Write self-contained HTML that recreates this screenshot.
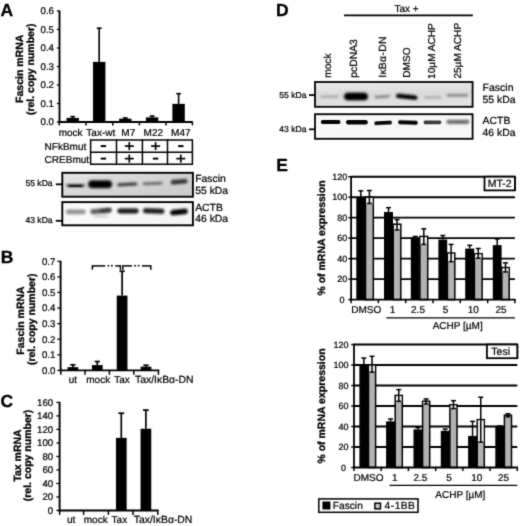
<!DOCTYPE html>
<html><head><meta charset="utf-8"><title>Figure</title>
<style>
html,body{margin:0;padding:0;background:#fff;}
body{width:520px;height:526px;overflow:hidden;font-family:"Liberation Sans",sans-serif;}
svg{display:block;}
svg text{font-family:"Liberation Sans",sans-serif;text-rendering:geometricPrecision;}
</style></head>
<body>
<svg width="520" height="526" viewBox="0 0 520 526">
<defs>
<filter id="soft" filterUnits="userSpaceOnUse" x="0" y="0" width="520" height="526" color-interpolation-filters="sRGB"><feConvolveMatrix order="3" kernelMatrix="0.01917 0.10012 0.01917 0.10012 0.52283 0.10012 0.01917 0.10012 0.01917" edgeMode="duplicate" preserveAlpha="true"/></filter>
<filter id="b0_6" x="-30%" y="-200%" width="160%" height="500%"><feGaussianBlur stdDeviation="0.6"/></filter>
<filter id="b0_7" x="-30%" y="-200%" width="160%" height="500%"><feGaussianBlur stdDeviation="0.7"/></filter>
<filter id="b0_8" x="-30%" y="-200%" width="160%" height="500%"><feGaussianBlur stdDeviation="0.8"/></filter>
<filter id="b0_9" x="-30%" y="-200%" width="160%" height="500%"><feGaussianBlur stdDeviation="0.9"/></filter>
<filter id="b1_0" x="-30%" y="-200%" width="160%" height="500%"><feGaussianBlur stdDeviation="1.0"/></filter>
<filter id="b1_5" x="-30%" y="-200%" width="160%" height="500%"><feGaussianBlur stdDeviation="1.5"/></filter>
<linearGradient id="gA1" x1="0" x2="1" y1="0" y2="0.6"><stop offset="0" stop-color="#e6e6e6"/><stop offset="0.4" stop-color="#d9d9d9"/><stop offset="1" stop-color="#cdcdcd"/></linearGradient>
<linearGradient id="gA2" x1="0" x2="1" y1="0" y2="0"><stop offset="0" stop-color="#fafafa"/><stop offset="1" stop-color="#f4f4f4"/></linearGradient>
<linearGradient id="gD1" x1="0" x2="0.15" y1="0" y2="1"><stop offset="0" stop-color="#ececec"/><stop offset="0.55" stop-color="#dadada"/><stop offset="1" stop-color="#e2e2e2"/></linearGradient>
<linearGradient id="gD2" x1="0" x2="1" y1="0" y2="0"><stop offset="0" stop-color="#f8f8f8"/><stop offset="1" stop-color="#f6f6f6"/></linearGradient>
<clipPath id="cgA1"><rect x="62.3" y="172.8" width="130.6" height="23.9"/></clipPath>
<clipPath id="cgA2"><rect x="62.3" y="202.1" width="130.6" height="23.2"/></clipPath>
<clipPath id="cgD1"><rect x="315" y="82" width="157.6" height="24.8"/></clipPath>
<clipPath id="cgD2"><rect x="315" y="114.2" width="157.6" height="24.6"/></clipPath>
</defs>
<rect width="520" height="526" fill="#fff"/>
<g filter="url(#soft)">
<rect x="-2" y="-2" width="524" height="530" fill="#fff"/>
<text x="0.60" y="16.20" font-size="17.5" text-anchor="start" font-weight="bold" fill="#000" stroke="#000" stroke-width="0.3" >A</text>
<line x1="59.50" y1="10.50" x2="59.50" y2="122.90" stroke="#000" stroke-width="1.9"/>
<line x1="58.60" y1="122.00" x2="192.80" y2="122.00" stroke="#000" stroke-width="1.8"/>
<line x1="56.90" y1="122.00" x2="59.50" y2="122.00" stroke="#000" stroke-width="1.3"/>
<text x="54.00" y="125.30" font-size="9.7" text-anchor="end" fill="#000" stroke="#000" stroke-width="0.22" >0.0</text>
<line x1="56.90" y1="103.50" x2="59.50" y2="103.50" stroke="#000" stroke-width="1.3"/>
<text x="54.00" y="106.80" font-size="9.7" text-anchor="end" fill="#000" stroke="#000" stroke-width="0.22" >0.1</text>
<line x1="56.90" y1="85.00" x2="59.50" y2="85.00" stroke="#000" stroke-width="1.3"/>
<text x="54.00" y="88.30" font-size="9.7" text-anchor="end" fill="#000" stroke="#000" stroke-width="0.22" >0.2</text>
<line x1="56.90" y1="66.50" x2="59.50" y2="66.50" stroke="#000" stroke-width="1.3"/>
<text x="54.00" y="69.80" font-size="9.7" text-anchor="end" fill="#000" stroke="#000" stroke-width="0.22" >0.3</text>
<line x1="56.90" y1="48.00" x2="59.50" y2="48.00" stroke="#000" stroke-width="1.3"/>
<text x="54.00" y="51.30" font-size="9.7" text-anchor="end" fill="#000" stroke="#000" stroke-width="0.22" >0.4</text>
<line x1="56.90" y1="29.50" x2="59.50" y2="29.50" stroke="#000" stroke-width="1.3"/>
<text x="54.00" y="32.80" font-size="9.7" text-anchor="end" fill="#000" stroke="#000" stroke-width="0.22" >0.5</text>
<line x1="56.90" y1="11.00" x2="59.50" y2="11.00" stroke="#000" stroke-width="1.3"/>
<text x="54.00" y="14.30" font-size="9.7" text-anchor="end" fill="#000" stroke="#000" stroke-width="0.22" >0.6</text>
<line x1="59.20" y1="122.00" x2="59.20" y2="125.40" stroke="#000" stroke-width="1.5"/>
<line x1="86.00" y1="122.00" x2="86.00" y2="125.40" stroke="#000" stroke-width="1.5"/>
<line x1="112.80" y1="122.00" x2="112.80" y2="125.40" stroke="#000" stroke-width="1.5"/>
<line x1="139.40" y1="122.00" x2="139.40" y2="125.40" stroke="#000" stroke-width="1.5"/>
<line x1="166.00" y1="122.00" x2="166.00" y2="125.40" stroke="#000" stroke-width="1.5"/>
<line x1="192.40" y1="122.00" x2="192.40" y2="125.40" stroke="#000" stroke-width="1.5"/>
<rect x="66.50" y="117.93" width="12.40" height="4.07" fill="#000"/>
<line x1="72.70" y1="116.64" x2="72.70" y2="117.93" stroke="#000" stroke-width="1.6"/>
<line x1="70.30" y1="116.64" x2="75.10" y2="116.64" stroke="#000" stroke-width="1.6"/>
<rect x="93.00" y="61.88" width="12.40" height="60.12" fill="#000"/>
<line x1="99.20" y1="28.20" x2="99.20" y2="61.88" stroke="#000" stroke-width="1.6"/>
<line x1="96.80" y1="28.20" x2="101.60" y2="28.20" stroke="#000" stroke-width="1.6"/>
<rect x="119.10" y="118.67" width="12.40" height="3.33" fill="#000"/>
<line x1="125.30" y1="117.93" x2="125.30" y2="118.67" stroke="#000" stroke-width="1.6"/>
<line x1="122.90" y1="117.93" x2="127.70" y2="117.93" stroke="#000" stroke-width="1.6"/>
<rect x="145.90" y="117.38" width="12.40" height="4.62" fill="#000"/>
<line x1="152.10" y1="116.08" x2="152.10" y2="117.38" stroke="#000" stroke-width="1.6"/>
<line x1="149.70" y1="116.08" x2="154.50" y2="116.08" stroke="#000" stroke-width="1.6"/>
<rect x="172.40" y="103.87" width="12.40" height="18.13" fill="#000"/>
<line x1="178.60" y1="93.69" x2="178.60" y2="103.87" stroke="#000" stroke-width="1.6"/>
<line x1="176.20" y1="93.69" x2="181.00" y2="93.69" stroke="#000" stroke-width="1.6"/>
<text x="70.60" y="136.30" font-size="10" text-anchor="middle" fill="#000" stroke="#000" stroke-width="0.22" >mock</text>
<text x="100.80" y="136.30" font-size="10" text-anchor="middle" fill="#000" stroke="#000" stroke-width="0.22" >Tax-wt</text>
<text x="128.30" y="136.30" font-size="10" text-anchor="middle" fill="#000" stroke="#000" stroke-width="0.22" >M7</text>
<text x="153.30" y="136.30" font-size="10" text-anchor="middle" fill="#000" stroke="#000" stroke-width="0.22" >M22</text>
<text x="180.80" y="136.30" font-size="10" text-anchor="middle" fill="#000" stroke="#000" stroke-width="0.22" >M47</text>
<text x="23.20" y="68.80" font-size="10.5" text-anchor="middle" font-weight="bold" transform="rotate(-90 23.20 68.80)" fill="#000" stroke="#000" stroke-width="0.3" >Fascin mRNA</text>
<text x="34.50" y="69.30" font-size="10.5" text-anchor="middle" font-weight="bold" transform="rotate(-90 34.50 69.30)" fill="#000" stroke="#000" stroke-width="0.3" >(rel. copy number)</text>
<line x1="90.60" y1="139.25" x2="90.60" y2="164.95" stroke="#000" stroke-width="1.5"/>
<line x1="116.50" y1="139.25" x2="116.50" y2="164.95" stroke="#000" stroke-width="1.5"/>
<line x1="142.40" y1="139.25" x2="142.40" y2="164.95" stroke="#000" stroke-width="1.5"/>
<line x1="167.50" y1="139.25" x2="167.50" y2="164.95" stroke="#000" stroke-width="1.5"/>
<line x1="192.40" y1="139.25" x2="192.40" y2="164.95" stroke="#000" stroke-width="1.5"/>
<line x1="90.60" y1="140.00" x2="192.40" y2="140.00" stroke="#000" stroke-width="1.5"/>
<line x1="90.60" y1="152.20" x2="192.40" y2="152.20" stroke="#000" stroke-width="1.5"/>
<line x1="90.60" y1="164.20" x2="192.40" y2="164.20" stroke="#000" stroke-width="1.5"/>
<text x="44.60" y="150.40" font-size="10" text-anchor="start" fill="#000" stroke="#000" stroke-width="0.22" >NFkBmut</text>
<text x="44.60" y="162.60" font-size="10" text-anchor="start" fill="#000" stroke="#000" stroke-width="0.22" >CREBmut</text>
<line x1="100.70" y1="146.10" x2="106.10" y2="146.10" stroke="#000" stroke-width="2.0"/>
<line x1="124.80" y1="146.10" x2="133.80" y2="146.10" stroke="#000" stroke-width="1.7"/>
<line x1="129.30" y1="142.10" x2="129.30" y2="150.10" stroke="#000" stroke-width="1.7"/>
<line x1="151.10" y1="146.10" x2="160.10" y2="146.10" stroke="#000" stroke-width="1.7"/>
<line x1="155.60" y1="142.10" x2="155.60" y2="150.10" stroke="#000" stroke-width="1.7"/>
<line x1="178.10" y1="146.10" x2="183.50" y2="146.10" stroke="#000" stroke-width="2.0"/>
<line x1="100.70" y1="158.60" x2="106.10" y2="158.60" stroke="#000" stroke-width="2.0"/>
<line x1="124.80" y1="158.60" x2="133.80" y2="158.60" stroke="#000" stroke-width="1.7"/>
<line x1="129.30" y1="154.60" x2="129.30" y2="162.60" stroke="#000" stroke-width="1.7"/>
<line x1="152.90" y1="158.60" x2="158.30" y2="158.60" stroke="#000" stroke-width="2.0"/>
<line x1="176.30" y1="158.60" x2="185.30" y2="158.60" stroke="#000" stroke-width="1.7"/>
<line x1="180.80" y1="154.60" x2="180.80" y2="162.60" stroke="#000" stroke-width="1.7"/>
<g>
<rect x="62.3" y="172.8" width="130.6" height="23.9" fill="url(#gA1)"/>
<g clip-path="url(#cgA1)">
<rect x="66.50" y="184.20" width="18.00" height="2.80" rx="1.40" fill="#111" opacity="0.9" filter="url(#b0_8)" transform="rotate(0 75.50 185.60)"/>
<rect x="69.00" y="185.00" width="13.00" height="2.00" rx="1.00" fill="#000" opacity="0.6" filter="url(#b0_6)" transform="rotate(0 75.50 186.00)"/>
<rect x="88.60" y="180.70" width="23.00" height="7.00" rx="3.50" fill="#000" opacity="1" filter="url(#b0_9)" transform="rotate(0 100.10 184.20)"/>
<rect x="87.50" y="179.95" width="25.00" height="8.50" rx="4.25" fill="#000" opacity="0.35" filter="url(#b1_5)" transform="rotate(0 100.00 184.20)"/>
<rect x="117.20" y="182.75" width="20.00" height="3.30" rx="1.65" fill="#2a2a2a" opacity="0.88" filter="url(#b0_8)" transform="rotate(-3 127.20 184.40)"/>
<rect x="143.00" y="182.10" width="19.50" height="2.80" rx="1.40" fill="#444" opacity="0.72" filter="url(#b0_8)" transform="rotate(-2 152.75 183.50)"/>
<rect x="170.60" y="179.50" width="17.00" height="4.40" rx="2.20" fill="#1a1a1a" opacity="0.88" filter="url(#b0_8)" transform="rotate(-5 179.10 181.70)"/>
</g>
<rect x="62.3" y="172.8" width="130.6" height="23.9" fill="none" stroke="#000" stroke-width="1.9"/>
</g>
<g>
<rect x="62.3" y="202.1" width="130.6" height="23.2" fill="url(#gA2)"/>
<g clip-path="url(#cgA2)">
<rect x="65.80" y="209.40" width="20.00" height="4.80" rx="2.40" fill="#666" opacity="0.7" filter="url(#b1_0)" transform="rotate(0 75.80 211.80)"/>
<rect x="90.30" y="208.60" width="21.40" height="4.80" rx="2.40" fill="#333" opacity="0.8" filter="url(#b0_9)" transform="rotate(-5 101.00 211.00)"/>
<rect x="100.00" y="208.70" width="11.50" height="3.40" rx="1.70" fill="#111" opacity="0.5" filter="url(#b0_9)" transform="rotate(-5 105.75 210.40)"/>
<rect x="94.00" y="215.60" width="14.00" height="1.60" rx="0.80" fill="#777" opacity="0.45" filter="url(#b1_0)" transform="rotate(0 101.00 216.40)"/>
<rect x="117.30" y="208.60" width="21.40" height="4.80" rx="2.40" fill="#0c0c0c" opacity="0.95" filter="url(#b0_8)" transform="rotate(0 128.00 211.00)"/>
<rect x="143.00" y="208.50" width="21.40" height="5.00" rx="2.50" fill="#080808" opacity="0.95" filter="url(#b0_8)" transform="rotate(2 153.70 211.00)"/>
<rect x="170.20" y="209.20" width="17.60" height="5.60" rx="2.80" fill="#000" opacity="1" filter="url(#b0_8)" transform="rotate(-6 179.00 212.00)"/>
</g>
<rect x="62.3" y="202.1" width="130.6" height="23.2" fill="none" stroke="#000" stroke-width="1.9"/>
</g>
<text x="25.40" y="186.30" font-size="8.6" text-anchor="start" fill="#000" stroke="#000" stroke-width="0.22" >55 kDa</text>
<line x1="55.80" y1="184.30" x2="62.00" y2="184.30" stroke="#000" stroke-width="1.8"/>
<text x="25.40" y="223.30" font-size="8.6" text-anchor="start" fill="#000" stroke="#000" stroke-width="0.22" >43 kDa</text>
<line x1="55.80" y1="220.80" x2="62.00" y2="220.80" stroke="#000" stroke-width="1.8"/>
<text x="195.20" y="182.00" font-size="10.4" text-anchor="start" fill="#000" stroke="#000" stroke-width="0.22" >Fascin</text>
<text x="195.20" y="193.70" font-size="10.4" text-anchor="start" fill="#000" stroke="#000" stroke-width="0.22" >55 kDa</text>
<text x="195.20" y="211.00" font-size="10.4" text-anchor="start" fill="#000" stroke="#000" stroke-width="0.22" >ACTB</text>
<text x="195.20" y="222.20" font-size="10.4" text-anchor="start" fill="#000" stroke="#000" stroke-width="0.22" >46 kDa</text>
<text x="0.80" y="263.20" font-size="17.5" text-anchor="start" font-weight="bold" fill="#000" stroke="#000" stroke-width="0.3" >B</text>
<line x1="60.60" y1="260.80" x2="60.60" y2="371.30" stroke="#000" stroke-width="1.9"/>
<line x1="59.70" y1="370.40" x2="159.30" y2="370.40" stroke="#000" stroke-width="1.8"/>
<line x1="57.40" y1="370.40" x2="60.60" y2="370.40" stroke="#000" stroke-width="1.3"/>
<text x="55.40" y="373.70" font-size="9.7" text-anchor="end" fill="#000" stroke="#000" stroke-width="0.22" >0.0</text>
<line x1="57.40" y1="354.81" x2="60.60" y2="354.81" stroke="#000" stroke-width="1.3"/>
<text x="55.40" y="358.11" font-size="9.7" text-anchor="end" fill="#000" stroke="#000" stroke-width="0.22" >0.1</text>
<line x1="57.40" y1="339.23" x2="60.60" y2="339.23" stroke="#000" stroke-width="1.3"/>
<text x="55.40" y="342.53" font-size="9.7" text-anchor="end" fill="#000" stroke="#000" stroke-width="0.22" >0.2</text>
<line x1="57.40" y1="323.64" x2="60.60" y2="323.64" stroke="#000" stroke-width="1.3"/>
<text x="55.40" y="326.94" font-size="9.7" text-anchor="end" fill="#000" stroke="#000" stroke-width="0.22" >0.3</text>
<line x1="57.40" y1="308.06" x2="60.60" y2="308.06" stroke="#000" stroke-width="1.3"/>
<text x="55.40" y="311.36" font-size="9.7" text-anchor="end" fill="#000" stroke="#000" stroke-width="0.22" >0.4</text>
<line x1="57.40" y1="292.47" x2="60.60" y2="292.47" stroke="#000" stroke-width="1.3"/>
<text x="55.40" y="295.77" font-size="9.7" text-anchor="end" fill="#000" stroke="#000" stroke-width="0.22" >0.5</text>
<line x1="57.40" y1="276.89" x2="60.60" y2="276.89" stroke="#000" stroke-width="1.3"/>
<text x="55.40" y="280.19" font-size="9.7" text-anchor="end" fill="#000" stroke="#000" stroke-width="0.22" >0.6</text>
<line x1="57.40" y1="261.30" x2="60.60" y2="261.30" stroke="#000" stroke-width="1.3"/>
<text x="55.40" y="264.60" font-size="9.7" text-anchor="end" fill="#000" stroke="#000" stroke-width="0.22" >0.7</text>
<line x1="60.80" y1="370.40" x2="60.80" y2="374.80" stroke="#000" stroke-width="1.5"/>
<line x1="85.00" y1="370.40" x2="85.00" y2="374.80" stroke="#000" stroke-width="1.5"/>
<line x1="109.40" y1="370.40" x2="109.40" y2="374.80" stroke="#000" stroke-width="1.5"/>
<line x1="133.80" y1="370.40" x2="133.80" y2="374.80" stroke="#000" stroke-width="1.5"/>
<line x1="158.40" y1="370.40" x2="158.40" y2="374.80" stroke="#000" stroke-width="1.5"/>
<rect x="67.55" y="367.13" width="10.70" height="3.27" fill="#000"/>
<line x1="72.90" y1="364.79" x2="72.90" y2="367.13" stroke="#000" stroke-width="1.7"/>
<line x1="70.30" y1="364.79" x2="75.50" y2="364.79" stroke="#000" stroke-width="1.7"/>
<rect x="91.95" y="365.10" width="10.70" height="5.30" fill="#000"/>
<line x1="97.30" y1="361.52" x2="97.30" y2="365.10" stroke="#000" stroke-width="1.7"/>
<line x1="94.70" y1="361.52" x2="99.90" y2="361.52" stroke="#000" stroke-width="1.7"/>
<rect x="116.75" y="295.59" width="10.70" height="74.81" fill="#000"/>
<line x1="122.10" y1="271.27" x2="122.10" y2="295.59" stroke="#000" stroke-width="1.7"/>
<line x1="119.50" y1="271.27" x2="124.70" y2="271.27" stroke="#000" stroke-width="1.7"/>
<rect x="140.65" y="366.66" width="10.70" height="3.74" fill="#000"/>
<line x1="146.00" y1="365.26" x2="146.00" y2="366.66" stroke="#000" stroke-width="1.7"/>
<line x1="143.40" y1="365.26" x2="148.60" y2="365.26" stroke="#000" stroke-width="1.7"/>
<line x1="92.40" y1="265.90" x2="105.20" y2="265.90" stroke="#000" stroke-width="1.5"/>
<line x1="115.20" y1="265.90" x2="120.60" y2="265.90" stroke="#000" stroke-width="1.5"/>
<line x1="122.40" y1="265.90" x2="132.00" y2="265.90" stroke="#000" stroke-width="1.5"/>
<line x1="142.00" y1="265.90" x2="150.80" y2="265.90" stroke="#000" stroke-width="1.5"/>
<line x1="92.40" y1="265.15" x2="92.40" y2="269.70" stroke="#000" stroke-width="1.5"/>
<line x1="150.80" y1="265.15" x2="150.80" y2="269.70" stroke="#000" stroke-width="1.5"/>
<line x1="120.40" y1="265.15" x2="120.40" y2="270.10" stroke="#000" stroke-width="1.4"/>
<line x1="122.80" y1="265.15" x2="122.80" y2="270.10" stroke="#000" stroke-width="1.4"/>
<circle cx="108.4" cy="265.7" r="1.05" fill="#222"/>
<circle cx="111.9" cy="265.7" r="1.05" fill="#222"/>
<circle cx="135.0" cy="265.7" r="1.05" fill="#222"/>
<circle cx="138.5" cy="265.7" r="1.05" fill="#222"/>
<text x="72.80" y="382.50" font-size="10" text-anchor="middle" fill="#000" stroke="#000" stroke-width="0.22" >ut</text>
<text x="98.20" y="382.50" font-size="10" text-anchor="middle" fill="#000" stroke="#000" stroke-width="0.22" >mock</text>
<text x="122.00" y="382.50" font-size="10" text-anchor="middle" fill="#000" stroke="#000" stroke-width="0.22" >Tax</text>
<text x="164.30" y="382.50" font-size="10.4" text-anchor="middle" fill="#000" stroke="#000" stroke-width="0.22" >Tax/IκBα-DN</text>
<text x="23.60" y="320.50" font-size="10.5" text-anchor="middle" font-weight="bold" transform="rotate(-90 23.60 320.50)" fill="#000" stroke="#000" stroke-width="0.3" >Fascin mRNA</text>
<text x="34.90" y="319.30" font-size="10.5" text-anchor="middle" font-weight="bold" transform="rotate(-90 34.90 319.30)" fill="#000" stroke="#000" stroke-width="0.3" >(rel. copy number)</text>
<text x="0.60" y="407.30" font-size="17.5" text-anchor="start" font-weight="bold" fill="#000" stroke="#000" stroke-width="0.3" >C</text>
<line x1="59.60" y1="401.90" x2="59.60" y2="511.40" stroke="#000" stroke-width="1.9"/>
<line x1="58.70" y1="510.50" x2="158.60" y2="510.50" stroke="#000" stroke-width="1.8"/>
<line x1="56.40" y1="510.50" x2="59.60" y2="510.50" stroke="#000" stroke-width="1.3"/>
<text x="53.20" y="513.80" font-size="9.7" text-anchor="end" fill="#000" stroke="#000" stroke-width="0.22" >0</text>
<line x1="56.40" y1="496.99" x2="59.60" y2="496.99" stroke="#000" stroke-width="1.3"/>
<text x="53.20" y="500.29" font-size="9.7" text-anchor="end" fill="#000" stroke="#000" stroke-width="0.22" >20</text>
<line x1="56.40" y1="483.48" x2="59.60" y2="483.48" stroke="#000" stroke-width="1.3"/>
<text x="53.20" y="486.78" font-size="9.7" text-anchor="end" fill="#000" stroke="#000" stroke-width="0.22" >40</text>
<line x1="56.40" y1="469.96" x2="59.60" y2="469.96" stroke="#000" stroke-width="1.3"/>
<text x="53.20" y="473.26" font-size="9.7" text-anchor="end" fill="#000" stroke="#000" stroke-width="0.22" >60</text>
<line x1="56.40" y1="456.45" x2="59.60" y2="456.45" stroke="#000" stroke-width="1.3"/>
<text x="53.20" y="459.75" font-size="9.7" text-anchor="end" fill="#000" stroke="#000" stroke-width="0.22" >80</text>
<line x1="56.40" y1="442.94" x2="59.60" y2="442.94" stroke="#000" stroke-width="1.3"/>
<text x="53.20" y="446.24" font-size="9.7" text-anchor="end" fill="#000" stroke="#000" stroke-width="0.22" >100</text>
<line x1="56.40" y1="429.42" x2="59.60" y2="429.42" stroke="#000" stroke-width="1.3"/>
<text x="53.20" y="432.72" font-size="9.7" text-anchor="end" fill="#000" stroke="#000" stroke-width="0.22" >120</text>
<line x1="56.40" y1="415.91" x2="59.60" y2="415.91" stroke="#000" stroke-width="1.3"/>
<text x="53.20" y="419.21" font-size="9.7" text-anchor="end" fill="#000" stroke="#000" stroke-width="0.22" >140</text>
<line x1="56.40" y1="402.40" x2="59.60" y2="402.40" stroke="#000" stroke-width="1.3"/>
<text x="53.20" y="405.70" font-size="9.7" text-anchor="end" fill="#000" stroke="#000" stroke-width="0.22" >160</text>
<line x1="59.60" y1="510.50" x2="59.60" y2="514.90" stroke="#000" stroke-width="1.5"/>
<line x1="83.60" y1="510.50" x2="83.60" y2="514.90" stroke="#000" stroke-width="1.5"/>
<line x1="108.40" y1="510.50" x2="108.40" y2="514.90" stroke="#000" stroke-width="1.5"/>
<line x1="133.00" y1="510.50" x2="133.00" y2="514.90" stroke="#000" stroke-width="1.5"/>
<line x1="157.80" y1="510.50" x2="157.80" y2="514.90" stroke="#000" stroke-width="1.5"/>
<rect x="115.95" y="437.87" width="10.70" height="72.63" fill="#000"/>
<line x1="121.30" y1="413.21" x2="121.30" y2="437.87" stroke="#000" stroke-width="1.7"/>
<line x1="118.40" y1="413.21" x2="124.20" y2="413.21" stroke="#000" stroke-width="1.7"/>
<rect x="140.55" y="428.75" width="10.70" height="81.75" fill="#000"/>
<line x1="145.90" y1="410.10" x2="145.90" y2="428.75" stroke="#000" stroke-width="1.7"/>
<line x1="143.00" y1="410.10" x2="148.80" y2="410.10" stroke="#000" stroke-width="1.7"/>
<text x="71.20" y="522.60" font-size="10" text-anchor="middle" fill="#000" stroke="#000" stroke-width="0.22" >ut</text>
<text x="95.70" y="522.60" font-size="10" text-anchor="middle" fill="#000" stroke="#000" stroke-width="0.22" >mock</text>
<text x="119.40" y="522.60" font-size="10" text-anchor="middle" fill="#000" stroke="#000" stroke-width="0.22" >Tax</text>
<text x="163.10" y="522.60" font-size="10.4" text-anchor="middle" fill="#000" stroke="#000" stroke-width="0.22" >Tax/IκBα-DN</text>
<text x="21.00" y="455.50" font-size="10.5" text-anchor="middle" font-weight="bold" transform="rotate(-90 21.00 455.50)" fill="#000" stroke="#000" stroke-width="0.3" >Tax mRNA</text>
<text x="31.40" y="455.50" font-size="10.5" text-anchor="middle" font-weight="bold" transform="rotate(-90 31.40 455.50)" fill="#000" stroke="#000" stroke-width="0.3" >(rel. copy number)</text>
<text x="275.90" y="16.30" font-size="17.5" text-anchor="start" font-weight="bold" fill="#000" stroke="#000" stroke-width="0.3" >D</text>
<text x="406.60" y="12.00" font-size="10" text-anchor="middle" fill="#000" stroke="#000" stroke-width="0.22" >Tax +</text>
<line x1="344.00" y1="15.40" x2="472.80" y2="15.40" stroke="#000" stroke-width="1.6"/>
<text x="331.40" y="77.80" font-size="10.2" text-anchor="start" transform="rotate(-90 331.40 77.80)" fill="#000" stroke="#000" stroke-width="0.22" >mock</text>
<text x="357.50" y="77.80" font-size="10.4" text-anchor="start" transform="rotate(-90 357.50 77.80)" fill="#000" stroke="#000" stroke-width="0.22" >pcDNA3</text>
<text x="386.40" y="77.80" font-size="10.4" text-anchor="start" transform="rotate(-90 386.40 77.80)" fill="#000" stroke="#000" stroke-width="0.22" letter-spacing="0.3">IκBα-DN</text>
<text x="410.00" y="77.80" font-size="10.1" text-anchor="start" transform="rotate(-90 410.00 77.80)" fill="#000" stroke="#000" stroke-width="0.22" >DMSO</text>
<text x="435.20" y="78.90" font-size="10.1" text-anchor="start" transform="rotate(-90 435.20 78.90)" fill="#000" stroke="#000" stroke-width="0.22" >10µM ACHP</text>
<text x="461.30" y="78.60" font-size="10.1" text-anchor="start" transform="rotate(-90 461.30 78.60)" fill="#000" stroke="#000" stroke-width="0.22" >25µM ACHP</text>
<g>
<rect x="315.0" y="82.0" width="157.6" height="24.8" fill="url(#gD1)"/>
<g clip-path="url(#cgD1)">
<rect x="320.50" y="95.50" width="18.00" height="2.60" rx="1.30" fill="#666" opacity="0.4" filter="url(#b1_0)" transform="rotate(0 329.50 96.80)"/>
<rect x="344.50" y="92.90" width="23.00" height="7.00" rx="3.50" fill="#000" opacity="1" filter="url(#b0_9)" transform="rotate(0 356.00 96.40)"/>
<rect x="343.50" y="92.15" width="25.00" height="8.50" rx="4.25" fill="#000" opacity="0.35" filter="url(#b1_5)" transform="rotate(0 356.00 96.40)"/>
<rect x="374.50" y="95.50" width="15.50" height="2.60" rx="1.30" fill="#444" opacity="0.6" filter="url(#b0_8)" transform="rotate(-4 382.25 96.80)"/>
<rect x="396.00" y="94.50" width="21.50" height="4.60" rx="2.30" fill="#000" opacity="1" filter="url(#b0_8)" transform="rotate(6 406.75 96.80)"/>
<rect x="424.00" y="96.20" width="17.50" height="2.40" rx="1.20" fill="#666" opacity="0.45" filter="url(#b0_9)" transform="rotate(0 432.75 97.40)"/>
<rect x="446.60" y="94.00" width="21.40" height="2.80" rx="1.40" fill="#555" opacity="0.62" filter="url(#b0_8)" transform="rotate(0 457.30 95.40)"/>
</g>
<rect x="315.0" y="82.0" width="157.6" height="24.8" fill="none" stroke="#000" stroke-width="1.8"/>
</g>
<g>
<rect x="315.0" y="114.2" width="157.6" height="24.6" fill="url(#gD2)"/>
<g clip-path="url(#cgD2)">
<rect x="320.80" y="119.90" width="19.80" height="4.20" rx="2.10" fill="#000" opacity="1" filter="url(#b0_6)" transform="rotate(0 330.70 122.00)"/>
<rect x="346.00" y="120.10" width="21.80" height="4.40" rx="2.20" fill="#000" opacity="1" filter="url(#b0_6)" transform="rotate(0 356.90 122.30)"/>
<rect x="374.20" y="121.00" width="17.80" height="3.80" rx="1.90" fill="#000" opacity="0.97" filter="url(#b0_6)" transform="rotate(-3 383.10 122.90)"/>
<rect x="398.00" y="120.40" width="19.80" height="4.00" rx="2.00" fill="#000" opacity="1" filter="url(#b0_6)" transform="rotate(2 407.90 122.40)"/>
<rect x="423.60" y="120.60" width="17.80" height="3.60" rx="1.80" fill="#1a1a1a" opacity="0.85" filter="url(#b0_7)" transform="rotate(0 432.50 122.40)"/>
<rect x="446.40" y="119.70" width="23.00" height="4.20" rx="2.10" fill="#3a3a3a" opacity="0.72" filter="url(#b0_9)" transform="rotate(0 457.90 121.80)"/>
</g>
<rect x="315.0" y="114.2" width="157.6" height="24.6" fill="none" stroke="#000" stroke-width="1.8"/>
</g>
<text x="279.20" y="98.00" font-size="8.6" text-anchor="start" fill="#000" stroke="#000" stroke-width="0.22" >55 kDa</text>
<line x1="309.00" y1="95.10" x2="315.00" y2="95.10" stroke="#000" stroke-width="1.8"/>
<text x="279.20" y="131.90" font-size="8.6" text-anchor="start" fill="#000" stroke="#000" stroke-width="0.22" >43 kDa</text>
<line x1="309.00" y1="129.30" x2="315.00" y2="129.30" stroke="#000" stroke-width="1.8"/>
<text x="482.60" y="90.80" font-size="10.5" text-anchor="start" fill="#000" stroke="#000" stroke-width="0.22" >Fascin</text>
<text x="482.60" y="103.00" font-size="10.4" text-anchor="start" fill="#000" stroke="#000" stroke-width="0.22" >55 kDa</text>
<text x="482.60" y="124.20" font-size="10.4" text-anchor="start" fill="#000" stroke="#000" stroke-width="0.22" >ACTB</text>
<text x="482.60" y="136.00" font-size="10.4" text-anchor="start" fill="#000" stroke="#000" stroke-width="0.22" >46 kDa</text>
<text x="276.20" y="171.30" font-size="17.5" text-anchor="start" font-weight="bold" fill="#000" stroke="#000" stroke-width="0.3" >E</text>
<line x1="351.10" y1="279.12" x2="514.90" y2="279.12" stroke="#000" stroke-width="1.9"/>
<line x1="351.10" y1="258.63" x2="514.90" y2="258.63" stroke="#000" stroke-width="1.9"/>
<line x1="351.10" y1="238.15" x2="514.90" y2="238.15" stroke="#000" stroke-width="1.9"/>
<line x1="351.10" y1="217.67" x2="514.90" y2="217.67" stroke="#000" stroke-width="1.9"/>
<line x1="351.10" y1="197.18" x2="514.90" y2="197.18" stroke="#000" stroke-width="1.9"/>
<line x1="351.10" y1="176.70" x2="514.90" y2="176.70" stroke="#000" stroke-width="1.9"/>
<rect x="356.30" y="197.39" width="9.00" height="102.21" fill="#000"/>
<rect x="365.50" y="197.18" width="7.80" height="102.42" fill="#b2b2b2" stroke="#000" stroke-width="1.5"/>
<rect x="366.25" y="197.93" width="6.30" height="6.05" fill="#f4f4f4"/>
<line x1="360.80" y1="190.83" x2="360.80" y2="197.39" stroke="#000" stroke-width="1.5"/>
<line x1="358.30" y1="190.83" x2="363.30" y2="190.83" stroke="#000" stroke-width="1.5"/>
<line x1="369.40" y1="190.53" x2="369.40" y2="203.43" stroke="#000" stroke-width="1.5"/>
<line x1="366.90" y1="190.53" x2="371.90" y2="190.53" stroke="#000" stroke-width="1.5"/>
<line x1="366.90" y1="203.43" x2="371.90" y2="203.43" stroke="#000" stroke-width="1.5"/>
<rect x="384.00" y="212.03" width="9.00" height="87.57" fill="#000"/>
<rect x="393.20" y="224.22" width="7.60" height="75.38" fill="#b2b2b2" stroke="#000" stroke-width="1.5"/>
<rect x="393.95" y="224.97" width="6.10" height="5.54" fill="#f4f4f4"/>
<line x1="388.50" y1="207.63" x2="388.50" y2="212.03" stroke="#000" stroke-width="1.5"/>
<line x1="386.00" y1="207.63" x2="391.00" y2="207.63" stroke="#000" stroke-width="1.5"/>
<line x1="397.00" y1="219.61" x2="397.00" y2="229.96" stroke="#000" stroke-width="1.5"/>
<line x1="394.50" y1="219.61" x2="399.50" y2="219.61" stroke="#000" stroke-width="1.5"/>
<line x1="394.50" y1="229.96" x2="399.50" y2="229.96" stroke="#000" stroke-width="1.5"/>
<rect x="410.80" y="237.54" width="8.90" height="62.06" fill="#000"/>
<rect x="419.90" y="236.41" width="7.80" height="63.19" fill="#b2b2b2" stroke="#000" stroke-width="1.5"/>
<rect x="420.65" y="237.16" width="6.30" height="7.79" fill="#f4f4f4"/>
<line x1="415.25" y1="236.51" x2="415.25" y2="237.54" stroke="#000" stroke-width="1.5"/>
<line x1="412.75" y1="236.51" x2="417.75" y2="236.51" stroke="#000" stroke-width="1.5"/>
<line x1="423.80" y1="228.83" x2="423.80" y2="244.40" stroke="#000" stroke-width="1.5"/>
<line x1="421.30" y1="228.83" x2="426.30" y2="228.83" stroke="#000" stroke-width="1.5"/>
<line x1="421.30" y1="244.40" x2="426.30" y2="244.40" stroke="#000" stroke-width="1.5"/>
<rect x="438.40" y="239.58" width="8.80" height="60.02" fill="#000"/>
<rect x="447.40" y="253.00" width="7.40" height="46.60" fill="#b2b2b2" stroke="#000" stroke-width="1.5"/>
<rect x="448.15" y="253.75" width="5.90" height="8.51" fill="#f4f4f4"/>
<line x1="442.80" y1="235.49" x2="442.80" y2="239.58" stroke="#000" stroke-width="1.5"/>
<line x1="440.30" y1="235.49" x2="445.30" y2="235.49" stroke="#000" stroke-width="1.5"/>
<line x1="451.10" y1="244.40" x2="451.10" y2="261.71" stroke="#000" stroke-width="1.5"/>
<line x1="448.60" y1="244.40" x2="453.60" y2="244.40" stroke="#000" stroke-width="1.5"/>
<line x1="448.60" y1="261.71" x2="453.60" y2="261.71" stroke="#000" stroke-width="1.5"/>
<rect x="465.20" y="248.60" width="9.00" height="51.00" fill="#000"/>
<rect x="474.40" y="253.72" width="7.70" height="45.88" fill="#b2b2b2" stroke="#000" stroke-width="1.5"/>
<rect x="475.15" y="254.47" width="6.20" height="4.31" fill="#f4f4f4"/>
<line x1="469.70" y1="245.32" x2="469.70" y2="248.60" stroke="#000" stroke-width="1.5"/>
<line x1="467.20" y1="245.32" x2="472.20" y2="245.32" stroke="#000" stroke-width="1.5"/>
<line x1="478.25" y1="248.49" x2="478.25" y2="258.22" stroke="#000" stroke-width="1.5"/>
<line x1="475.75" y1="248.49" x2="480.75" y2="248.49" stroke="#000" stroke-width="1.5"/>
<line x1="475.75" y1="258.22" x2="480.75" y2="258.22" stroke="#000" stroke-width="1.5"/>
<rect x="492.80" y="245.11" width="8.80" height="54.49" fill="#000"/>
<rect x="501.80" y="267.54" width="7.40" height="32.06" fill="#b2b2b2" stroke="#000" stroke-width="1.5"/>
<rect x="502.55" y="268.29" width="5.90" height="4.20" fill="#f4f4f4"/>
<line x1="497.20" y1="238.97" x2="497.20" y2="245.11" stroke="#000" stroke-width="1.5"/>
<line x1="494.70" y1="238.97" x2="499.70" y2="238.97" stroke="#000" stroke-width="1.5"/>
<line x1="505.50" y1="262.83" x2="505.50" y2="271.95" stroke="#000" stroke-width="1.5"/>
<line x1="503.00" y1="262.83" x2="508.00" y2="262.83" stroke="#000" stroke-width="1.5"/>
<line x1="503.00" y1="271.95" x2="508.00" y2="271.95" stroke="#000" stroke-width="1.5"/>
<line x1="351.10" y1="176.00" x2="351.10" y2="300.40" stroke="#000" stroke-width="1.8"/>
<line x1="350.20" y1="299.60" x2="515.60" y2="299.60" stroke="#000" stroke-width="1.8"/>
<line x1="514.90" y1="176.70" x2="514.90" y2="190.70" stroke="#000" stroke-width="1.8"/>
<line x1="348.30" y1="299.60" x2="351.10" y2="299.60" stroke="#000" stroke-width="1.4"/>
<text x="344.50" y="302.80" font-size="9" text-anchor="end" fill="#000" stroke="#000" stroke-width="0.22" >0</text>
<line x1="348.30" y1="279.12" x2="351.10" y2="279.12" stroke="#000" stroke-width="1.4"/>
<text x="347.20" y="282.32" font-size="9" text-anchor="end" fill="#000" stroke="#000" stroke-width="0.22" >20</text>
<line x1="348.30" y1="258.63" x2="351.10" y2="258.63" stroke="#000" stroke-width="1.4"/>
<text x="347.20" y="261.83" font-size="9" text-anchor="end" fill="#000" stroke="#000" stroke-width="0.22" >40</text>
<line x1="348.30" y1="238.15" x2="351.10" y2="238.15" stroke="#000" stroke-width="1.4"/>
<text x="347.20" y="241.35" font-size="9" text-anchor="end" fill="#000" stroke="#000" stroke-width="0.22" >60</text>
<line x1="348.30" y1="217.67" x2="351.10" y2="217.67" stroke="#000" stroke-width="1.4"/>
<text x="347.20" y="220.87" font-size="9" text-anchor="end" fill="#000" stroke="#000" stroke-width="0.22" >80</text>
<line x1="348.30" y1="197.18" x2="351.10" y2="197.18" stroke="#000" stroke-width="1.4"/>
<text x="347.20" y="200.38" font-size="9" text-anchor="end" fill="#000" stroke="#000" stroke-width="0.22" >100</text>
<line x1="348.30" y1="176.70" x2="351.10" y2="176.70" stroke="#000" stroke-width="1.4"/>
<text x="347.20" y="179.90" font-size="9" text-anchor="end" fill="#000" stroke="#000" stroke-width="0.22" >120</text>
<line x1="351.10" y1="299.60" x2="351.10" y2="303.20" stroke="#000" stroke-width="1.5"/>
<line x1="378.40" y1="299.60" x2="378.40" y2="303.20" stroke="#000" stroke-width="1.5"/>
<line x1="405.70" y1="299.60" x2="405.70" y2="303.20" stroke="#000" stroke-width="1.5"/>
<line x1="433.00" y1="299.60" x2="433.00" y2="303.20" stroke="#000" stroke-width="1.5"/>
<line x1="460.30" y1="299.60" x2="460.30" y2="303.20" stroke="#000" stroke-width="1.5"/>
<line x1="487.60" y1="299.60" x2="487.60" y2="303.20" stroke="#000" stroke-width="1.5"/>
<line x1="514.90" y1="299.60" x2="514.90" y2="303.20" stroke="#000" stroke-width="1.5"/>
<rect x="484.50" y="176.70" width="30.40" height="13.70" fill="#fff" stroke="#000" stroke-width="1.8"/>
<text x="499.70" y="187.20" font-size="10.5" text-anchor="middle" fill="#000" stroke="#000" stroke-width="0.22" >MT-2</text>
<text x="366.20" y="313.00" font-size="10" text-anchor="middle" fill="#000" stroke="#000" stroke-width="0.22" >DMSO</text>
<text x="392.60" y="313.00" font-size="10" text-anchor="middle" fill="#000" stroke="#000" stroke-width="0.22" >1</text>
<text x="418.00" y="313.00" font-size="10" text-anchor="middle" fill="#000" stroke="#000" stroke-width="0.22" >2.5</text>
<text x="445.60" y="313.00" font-size="10" text-anchor="middle" fill="#000" stroke="#000" stroke-width="0.22" >5</text>
<text x="473.30" y="313.00" font-size="10" text-anchor="middle" fill="#000" stroke="#000" stroke-width="0.22" >10</text>
<text x="501.00" y="313.00" font-size="10" text-anchor="middle" fill="#000" stroke="#000" stroke-width="0.22" >25</text>
<line x1="386.40" y1="317.90" x2="514.90" y2="317.90" stroke="#000" stroke-width="1.3"/>
<text x="457.70" y="328.60" font-size="10" text-anchor="middle" fill="#000" stroke="#000" stroke-width="0.22" >ACHP [µM]</text>
<text x="324.70" y="238.00" font-size="10.5" text-anchor="middle" font-weight="bold" transform="rotate(-90 324.70 238.00)" fill="#000" stroke="#000" stroke-width="0.3" >% of mRNA expression</text>
<line x1="354.00" y1="447.00" x2="517.30" y2="447.00" stroke="#000" stroke-width="1.9"/>
<line x1="354.00" y1="426.50" x2="517.30" y2="426.50" stroke="#000" stroke-width="1.9"/>
<line x1="354.00" y1="406.00" x2="517.30" y2="406.00" stroke="#000" stroke-width="1.9"/>
<line x1="354.00" y1="385.50" x2="517.30" y2="385.50" stroke="#000" stroke-width="1.9"/>
<line x1="354.00" y1="365.00" x2="517.30" y2="365.00" stroke="#000" stroke-width="1.9"/>
<line x1="354.00" y1="344.50" x2="517.30" y2="344.50" stroke="#000" stroke-width="1.9"/>
<rect x="359.40" y="365.00" width="8.90" height="102.50" fill="#000"/>
<rect x="368.50" y="365.00" width="7.10" height="102.50" fill="#b2b2b2" stroke="#000" stroke-width="1.5"/>
<rect x="369.25" y="365.75" width="5.60" height="6.97" fill="#f4f4f4"/>
<line x1="363.85" y1="358.03" x2="363.85" y2="365.00" stroke="#000" stroke-width="1.5"/>
<line x1="361.35" y1="358.03" x2="366.35" y2="358.03" stroke="#000" stroke-width="1.5"/>
<line x1="372.05" y1="356.29" x2="372.05" y2="372.18" stroke="#000" stroke-width="1.5"/>
<line x1="369.55" y1="356.29" x2="374.55" y2="356.29" stroke="#000" stroke-width="1.5"/>
<line x1="369.55" y1="372.18" x2="374.55" y2="372.18" stroke="#000" stroke-width="1.5"/>
<rect x="386.10" y="421.38" width="8.90" height="46.12" fill="#000"/>
<rect x="395.20" y="395.44" width="7.10" height="72.06" fill="#b2b2b2" stroke="#000" stroke-width="1.5"/>
<rect x="395.95" y="396.19" width="5.60" height="5.64" fill="#f4f4f4"/>
<line x1="390.55" y1="419.02" x2="390.55" y2="421.38" stroke="#000" stroke-width="1.5"/>
<line x1="388.05" y1="419.02" x2="393.05" y2="419.02" stroke="#000" stroke-width="1.5"/>
<line x1="398.75" y1="389.60" x2="398.75" y2="401.29" stroke="#000" stroke-width="1.5"/>
<line x1="396.25" y1="389.60" x2="401.25" y2="389.60" stroke="#000" stroke-width="1.5"/>
<line x1="396.25" y1="401.29" x2="401.25" y2="401.29" stroke="#000" stroke-width="1.5"/>
<rect x="413.50" y="429.37" width="8.90" height="38.13" fill="#000"/>
<rect x="422.60" y="401.29" width="7.10" height="66.21" fill="#b2b2b2" stroke="#000" stroke-width="1.5"/>
<rect x="423.35" y="402.04" width="5.60" height="2.57" fill="#f4f4f4"/>
<line x1="417.95" y1="427.63" x2="417.95" y2="429.37" stroke="#000" stroke-width="1.5"/>
<line x1="415.45" y1="427.63" x2="420.45" y2="427.63" stroke="#000" stroke-width="1.5"/>
<line x1="426.15" y1="398.93" x2="426.15" y2="404.05" stroke="#000" stroke-width="1.5"/>
<line x1="423.65" y1="398.93" x2="428.65" y2="398.93" stroke="#000" stroke-width="1.5"/>
<line x1="423.65" y1="404.05" x2="428.65" y2="404.05" stroke="#000" stroke-width="1.5"/>
<rect x="440.80" y="430.81" width="8.90" height="36.69" fill="#000"/>
<rect x="449.90" y="404.77" width="7.10" height="62.73" fill="#b2b2b2" stroke="#000" stroke-width="1.5"/>
<rect x="450.65" y="405.52" width="5.60" height="3.59" fill="#f4f4f4"/>
<line x1="445.25" y1="429.06" x2="445.25" y2="430.81" stroke="#000" stroke-width="1.5"/>
<line x1="442.75" y1="429.06" x2="447.75" y2="429.06" stroke="#000" stroke-width="1.5"/>
<line x1="453.45" y1="400.67" x2="453.45" y2="408.56" stroke="#000" stroke-width="1.5"/>
<line x1="450.95" y1="400.67" x2="455.95" y2="400.67" stroke="#000" stroke-width="1.5"/>
<line x1="450.95" y1="408.56" x2="455.95" y2="408.56" stroke="#000" stroke-width="1.5"/>
<rect x="468.10" y="435.93" width="8.90" height="31.57" fill="#000"/>
<rect x="477.20" y="419.63" width="7.10" height="47.87" fill="#b2b2b2" stroke="#000" stroke-width="1.5"/>
<rect x="477.95" y="420.38" width="5.60" height="22.35" fill="#f4f4f4"/>
<line x1="472.55" y1="421.38" x2="472.55" y2="435.93" stroke="#000" stroke-width="1.5"/>
<line x1="470.05" y1="421.38" x2="475.05" y2="421.38" stroke="#000" stroke-width="1.5"/>
<line x1="480.75" y1="397.19" x2="480.75" y2="442.18" stroke="#000" stroke-width="1.5"/>
<line x1="478.25" y1="397.19" x2="483.25" y2="397.19" stroke="#000" stroke-width="1.5"/>
<line x1="478.25" y1="442.18" x2="483.25" y2="442.18" stroke="#000" stroke-width="1.5"/>
<rect x="495.30" y="426.60" width="8.90" height="40.90" fill="#000"/>
<rect x="504.40" y="415.23" width="7.10" height="52.27" fill="#b2b2b2" stroke="#000" stroke-width="1.5"/>
<rect x="505.15" y="415.98" width="5.60" height="1.44" fill="#f4f4f4"/>
<line x1="499.75" y1="425.88" x2="499.75" y2="426.60" stroke="#000" stroke-width="1.5"/>
<line x1="497.25" y1="425.88" x2="502.25" y2="425.88" stroke="#000" stroke-width="1.5"/>
<line x1="507.95" y1="413.79" x2="507.95" y2="416.87" stroke="#000" stroke-width="1.5"/>
<line x1="505.45" y1="413.79" x2="510.45" y2="413.79" stroke="#000" stroke-width="1.5"/>
<line x1="505.45" y1="416.87" x2="510.45" y2="416.87" stroke="#000" stroke-width="1.5"/>
<line x1="354.00" y1="343.80" x2="354.00" y2="468.30" stroke="#000" stroke-width="1.8"/>
<line x1="353.10" y1="467.50" x2="518.00" y2="467.50" stroke="#000" stroke-width="1.8"/>
<line x1="517.30" y1="344.50" x2="517.30" y2="358.50" stroke="#000" stroke-width="1.8"/>
<line x1="351.20" y1="467.50" x2="354.00" y2="467.50" stroke="#000" stroke-width="1.4"/>
<text x="345.90" y="470.70" font-size="9" text-anchor="end" fill="#000" stroke="#000" stroke-width="0.22" >0</text>
<line x1="351.20" y1="447.00" x2="354.00" y2="447.00" stroke="#000" stroke-width="1.4"/>
<text x="348.60" y="450.20" font-size="9" text-anchor="end" fill="#000" stroke="#000" stroke-width="0.22" >20</text>
<line x1="351.20" y1="426.50" x2="354.00" y2="426.50" stroke="#000" stroke-width="1.4"/>
<text x="348.60" y="429.70" font-size="9" text-anchor="end" fill="#000" stroke="#000" stroke-width="0.22" >40</text>
<line x1="351.20" y1="406.00" x2="354.00" y2="406.00" stroke="#000" stroke-width="1.4"/>
<text x="348.60" y="409.20" font-size="9" text-anchor="end" fill="#000" stroke="#000" stroke-width="0.22" >60</text>
<line x1="351.20" y1="385.50" x2="354.00" y2="385.50" stroke="#000" stroke-width="1.4"/>
<text x="348.60" y="388.70" font-size="9" text-anchor="end" fill="#000" stroke="#000" stroke-width="0.22" >80</text>
<line x1="351.20" y1="365.00" x2="354.00" y2="365.00" stroke="#000" stroke-width="1.4"/>
<text x="348.60" y="368.20" font-size="9" text-anchor="end" fill="#000" stroke="#000" stroke-width="0.22" >100</text>
<line x1="351.20" y1="344.50" x2="354.00" y2="344.50" stroke="#000" stroke-width="1.4"/>
<text x="348.60" y="347.70" font-size="9" text-anchor="end" fill="#000" stroke="#000" stroke-width="0.22" >120</text>
<line x1="354.00" y1="467.50" x2="354.00" y2="471.10" stroke="#000" stroke-width="1.5"/>
<line x1="381.22" y1="467.50" x2="381.22" y2="471.10" stroke="#000" stroke-width="1.5"/>
<line x1="408.43" y1="467.50" x2="408.43" y2="471.10" stroke="#000" stroke-width="1.5"/>
<line x1="435.65" y1="467.50" x2="435.65" y2="471.10" stroke="#000" stroke-width="1.5"/>
<line x1="462.87" y1="467.50" x2="462.87" y2="471.10" stroke="#000" stroke-width="1.5"/>
<line x1="490.08" y1="467.50" x2="490.08" y2="471.10" stroke="#000" stroke-width="1.5"/>
<line x1="517.30" y1="467.50" x2="517.30" y2="471.10" stroke="#000" stroke-width="1.5"/>
<rect x="486.90" y="344.50" width="30.40" height="13.70" fill="#fff" stroke="#000" stroke-width="1.8"/>
<text x="500.70" y="355.00" font-size="10.5" text-anchor="middle" fill="#000" stroke="#000" stroke-width="0.22" >Tesi</text>
<text x="368.50" y="481.20" font-size="10" text-anchor="middle" fill="#000" stroke="#000" stroke-width="0.22" >DMSO</text>
<text x="394.70" y="481.20" font-size="10" text-anchor="middle" fill="#000" stroke="#000" stroke-width="0.22" >1</text>
<text x="420.40" y="481.20" font-size="10" text-anchor="middle" fill="#000" stroke="#000" stroke-width="0.22" >2.5</text>
<text x="449.00" y="481.20" font-size="10" text-anchor="middle" fill="#000" stroke="#000" stroke-width="0.22" >5</text>
<text x="476.70" y="481.20" font-size="10" text-anchor="middle" fill="#000" stroke="#000" stroke-width="0.22" >10</text>
<text x="503.60" y="481.20" font-size="10" text-anchor="middle" fill="#000" stroke="#000" stroke-width="0.22" >25</text>
<line x1="389.50" y1="485.30" x2="517.30" y2="485.30" stroke="#000" stroke-width="1.3"/>
<text x="460.30" y="497.60" font-size="10" text-anchor="middle" fill="#000" stroke="#000" stroke-width="0.22" >ACHP [µM]</text>
<text x="324.90" y="406.00" font-size="10.5" text-anchor="middle" font-weight="bold" transform="rotate(-90 324.90 406.00)" fill="#000" stroke="#000" stroke-width="0.3" >% of mRNA expression</text>
<rect x="318.80" y="498.90" width="99.20" height="13.40" fill="#fff" stroke="#000" stroke-width="1.5"/>
<rect x="322.40" y="501.50" width="8.00" height="8.00" fill="#000"/>
<text x="332.80" y="509.10" font-size="10.2" text-anchor="start" fill="#000" stroke="#000" stroke-width="0.22" >Fascin</text>
<rect x="374.90" y="503.20" width="5.60" height="5.60" fill="#c4c4c4" stroke="#000" stroke-width="1.5"/>
<text x="384.60" y="509.10" font-size="10.2" text-anchor="start" fill="#000" stroke="#000" stroke-width="0.22" letter-spacing="0.5">4-1BB</text>
</g>
</svg>
</body></html>
